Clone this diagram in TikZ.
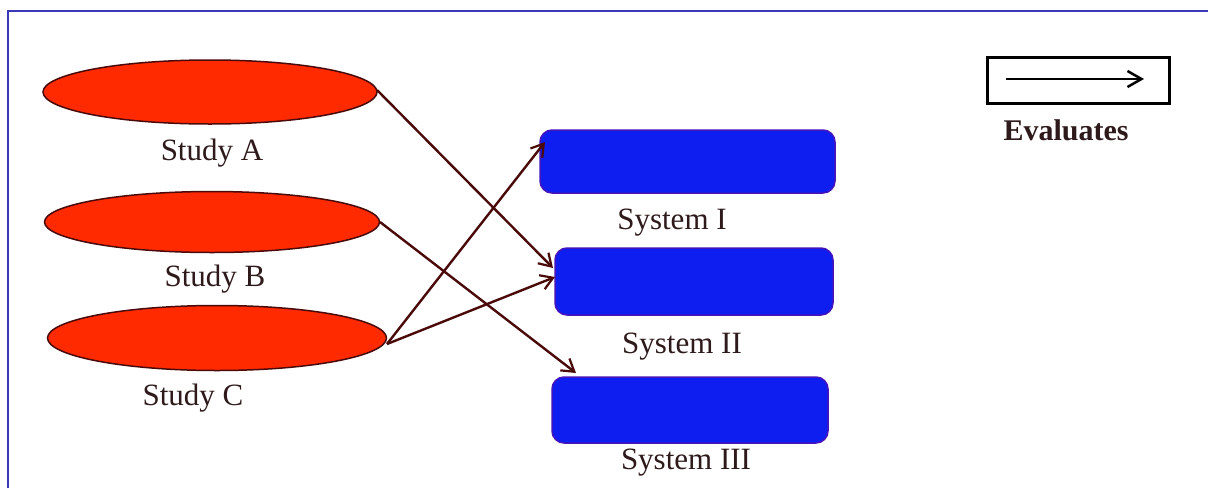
\documentclass[tikz,border=0pt]{standalone}
\usepackage{fontspec}
\setmainfont{Liberation Serif}
\usetikzlibrary{arrows.meta,shapes.geometric}
\definecolor{studyred}{HTML}{FF2A00}
\definecolor{sysblue}{HTML}{0F1EF0}
\definecolor{arrowbrown}{HTML}{4A0A0A}
\definecolor{txt}{HTML}{2E1A1A}
\definecolor{framebl}{HTML}{3A3AB8}
\begin{document}
\begin{tikzpicture}[x=1pt,y=-1pt,
  study/.style={ellipse,draw=arrowbrown,line width=1.5pt,fill=studyred,inner sep=0pt},
  sys/.style={rectangle,rounded corners=12pt,fill=sysblue,draw=sysblue!70!purple,line width=1.5pt,inner sep=0pt},
  lbl/.style={text=txt,font=\fontsize{31}{34}\selectfont,inner sep=0pt},
  conn/.style={draw=arrowbrown,line width=2.4pt,-{Straight Barb[length=12pt,width=15pt,line width=2.2pt]}}]
\useasboundingbox (0,0) rectangle (1208,488);
\fill[white] (0,0) rectangle (1208,488);
\draw[framebl,line width=2.5pt] (8,488) -- (8,11) -- (1208,11);
% studies
\node[study,minimum width=334pt,minimum height=64pt] (A) at (210,92) {};
\node[study,minimum width=335pt,minimum height=61pt] (B) at (212,222) {};
\node[study,minimum width=339pt,minimum height=65pt] (C) at (217,338) {};
\node[lbl] (lA) at (212,153) {Study A};
\node[lbl] (lB) at (215,279) {Study B};
\node[lbl] (lC) at (193,398) {Study C};
% systems
\node[sys,minimum width=295pt,minimum height=63pt] (S1) at (687.5,161.5) {};
\node[sys,minimum width=278pt,minimum height=67pt] (S2) at (694,281.5) {};
\node[sys,minimum width=276pt,minimum height=66pt] (S3) at (690,410) {};
\node[lbl] (l1) at (672,223) {System I};
\node[lbl] (l2) at (682,347) {System II};
\node[lbl] (l3) at (686,463) {System III};
% connectors
\coordinate (Ae) at (377,90);
\coordinate (Be) at (380,222);
\coordinate (Ce) at (387,344);
\coordinate (S1in) at (545,142);
\coordinate (S2inA) at (553,268);
\coordinate (S2inC) at (555,277);
\coordinate (S3in) at (576,373);
\draw[conn] (Ae) -- (S2inA);
\draw[conn] (Be) -- (S3in);
\draw[conn] (Ce) -- (S1in);
\draw[conn] (Ce) -- (S2inC);
% legend
\node[draw=black,line width=3pt,minimum width=182pt,minimum height=46pt,inner sep=0pt] (leg) at (1078,80) {};
\coordinate (legs) at (1006,79);
\coordinate (lege) at (1144,79);
\draw[black,line width=2.5pt,-{Straight Barb[length=14pt,width=16pt,line width=2.5pt]}] (legs) -- (lege);
\node[lbl,font=\fontsize{30}{33}\selectfont\bfseries] (lev) at (1066,130) {Evaluates};
\end{tikzpicture}
\end{document}
